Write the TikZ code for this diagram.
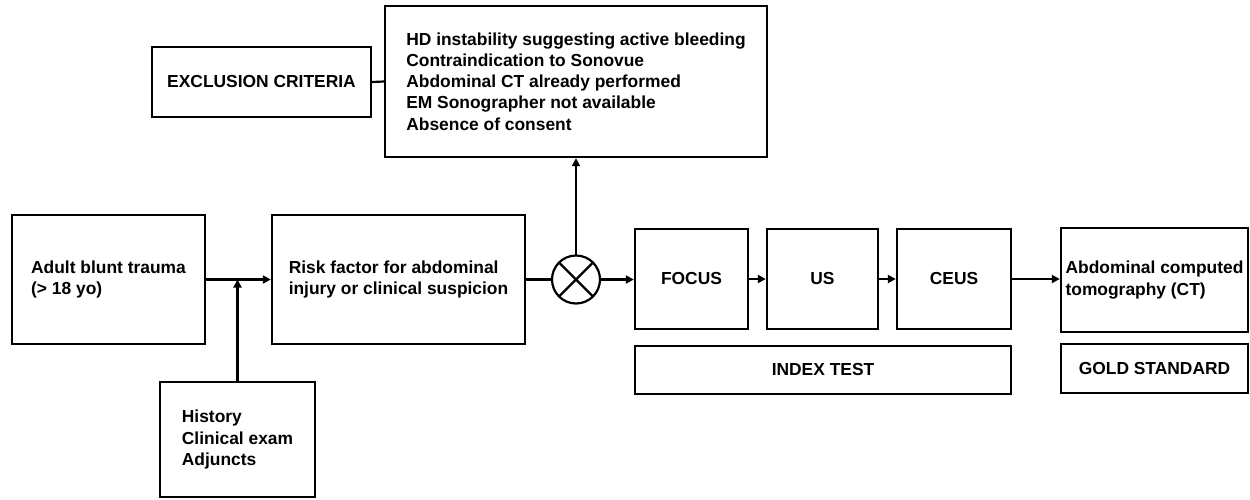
\documentclass[tikz,border=0pt]{standalone}
\usepackage{fontspec}
\setmainfont{Liberation Sans}
\usetikzlibrary{arrows.meta}
\tikzset{
  box/.style={draw, line width=2.4pt, inner sep=0pt, align=left, font=\fontsize{17.4}{21.2}\selectfont\bfseries},
  conn/.style={line width=2.2pt},
  arr/.style={conn, -{Triangle[length=8pt,width=8pt]}},
}
\begin{document}
\begin{tikzpicture}[x=1pt,y=-1pt]
\useasboundingbox (0,0) rectangle (1250,499);
% boxes
\node[box, minimum width=193pt, minimum height=129pt] (adult) at (108.5,279.5) {Adult blunt trauma\\(> 18 yo)};
\node[box, minimum width=253pt, minimum height=129pt] (risk) at (398.5,279.5) {Risk factor for abdominal\\injury or clinical suspicion};
\node[box, minimum width=155pt, minimum height=115pt] (hist) at (237.5,439.5) {History\\Clinical exam\\Adjuncts};
\node[circle, draw, line width=2.2pt, minimum size=48pt, inner sep=0pt, outer sep=0pt] (cross) at (576,279.5) {};
\draw[conn] (cross.north east) -- (cross.south west) (cross.north west) -- (cross.south east);
\node[box, minimum width=219pt, minimum height=70pt] (excl) at (261.5,82) {EXCLUSION CRITERIA};
\node[box, minimum width=382pt, minimum height=151pt] (list) at (576,81.5) {HD instability suggesting active bleeding\\Contraindication to Sonovue\\Abdominal CT already performed\\EM Sonographer not available\\Absence of consent};
\node[box, minimum width=113pt, minimum height=100pt] (focus) at (691.5,279) {FOCUS};
\node[box, minimum width=111pt, minimum height=100pt] (us) at (822.5,279) {US};
\node[box, minimum width=114pt, minimum height=100pt] (ceus) at (954,279) {CEUS};
\node[box, minimum width=376pt, minimum height=48pt] (index) at (823,370) {INDEX TEST};
\node[box, minimum width=187pt, minimum height=104pt] (ct) at (1154.5,280) {Abdominal computed\\tomography (CT)};
\node[box, minimum width=187pt, minimum height=49pt] (gold) at (1154.5,368.5) {GOLD STANDARD};
% connectors
\draw[arr] (adult.east) -- (risk.west);
\draw[arr] (hist.north) -- (hist.north |- adult.east);
\draw[conn] (risk.east) -- (cross.west);
\draw[arr] (cross.east) -- (cross.east -| focus.west);
\draw[arr] (cross.north) -- (list.south);
\draw[conn] (excl.east) -- (list.west);
\draw[arr] (focus.east) -- (us.west);
\draw[arr] (us.east) -- (ceus.west);
\draw[arr] (ceus.east) -- (ceus.east -| ct.west);
\end{tikzpicture}
\end{document}
